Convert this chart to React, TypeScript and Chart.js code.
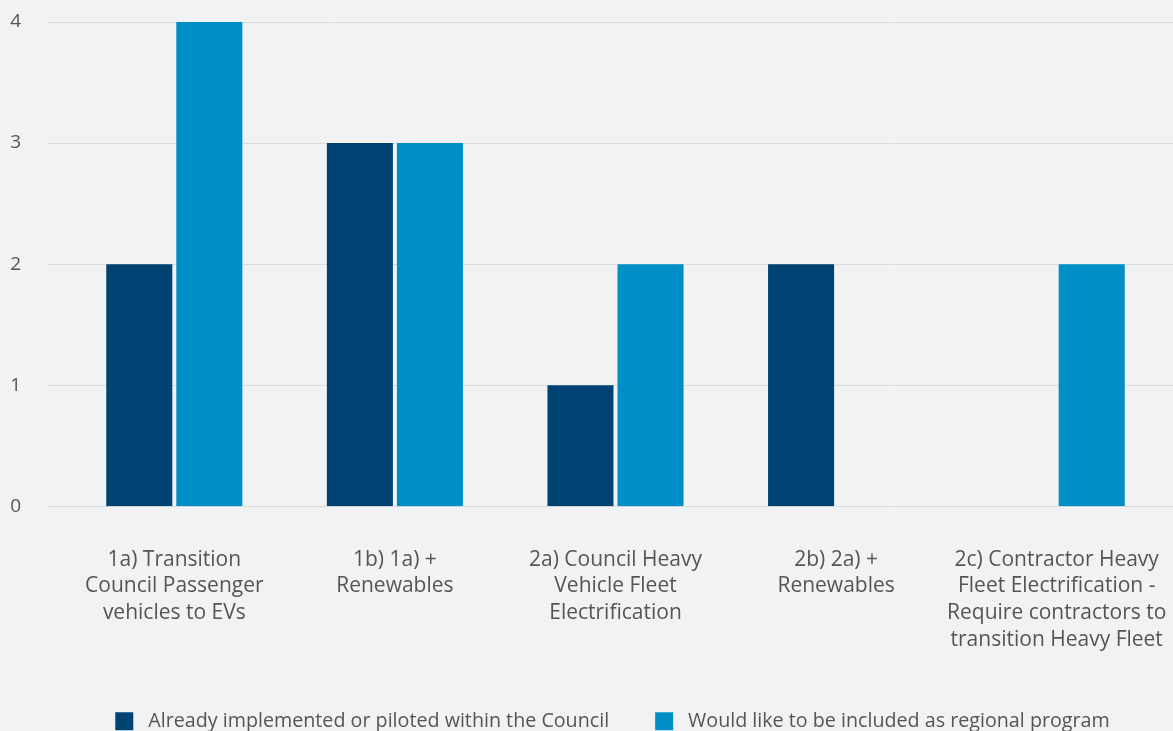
import React, { useEffect, useRef } from "react";
import { Chart, registerables } from "chart.js";

Chart.register(...registerables);

const categories: string[][] = [
  ["1a) Transition", "Council Passenger", "vehicles to EVs"],
  ["1b) 1a) +", "Renewables"],
  ["2a) Council Heavy", "Vehicle Fleet", "Electrification"],
  ["2b) 2a) +", "Renewables"],
  ["2c) Contractor Heavy", "Fleet Electrification -", "Require contractors to", "transition Heavy Fleet"],
];

const seriesNames = [
  "Already implemented or piloted within the Council",
  "Would like to be included as regional program",
];

const implementedValues = [2, 3, 1, 2, 0];
const regionalValues = [4, 3, 2, 0, 2];

const yTicks = [0, 1, 2, 3, 4];

const BG = "#f1f2f4";
const DARK = "#004373";
const LIGHT = "#008ec6";
const TEXT = "#555555";
const GRID = "#d9dbde";
const FONT = "'Open Sans', sans-serif";

const bgAndGrid = {
  id: "bgAndGrid",
  beforeDraw(chart: any) {
    const { ctx, width, height } = chart;
    ctx.save();
    ctx.fillStyle = BG;
    ctx.fillRect(0, 0, width, height);
    const y = chart.scales.y;
    ctx.strokeStyle = GRID;
    ctx.lineWidth = 1;
    yTicks.forEach((v) => {
      const py = Math.round(y.getPixelForValue(v)) + 0.5;
      ctx.beginPath();
      ctx.moveTo(47, py);
      ctx.lineTo(width, py);
      ctx.stroke();
    });
    ctx.restore();
  },
};

const legendShift = {
  id: "legendShift",
  afterLayout(chart: any) {
    const l = chart.legend;
    if (l) {
      l.left += 29;
      l.right += 29;
    }
  },
};

export default function App() {
  const ref = useRef<HTMLCanvasElement | null>(null);
  useEffect(() => {
    if (!ref.current) return;
    const chart = new Chart(ref.current, {
      type: "bar",
      data: {
        labels: categories as any,
        datasets: [
          {
            label: seriesNames[0],
            data: implementedValues,
            backgroundColor: DARK,
            barPercentage: 0.943,
            categoryPercentage: 0.635,
          },
          {
            label: seriesNames[1],
            data: regionalValues,
            backgroundColor: LIGHT,
            barPercentage: 0.943,
            categoryPercentage: 0.635,
          },
        ],
      },
      options: {
        responsive: false,
        animation: false,
        maintainAspectRatio: false,
        layout: { padding: { top: 22, right: 6, left: 0, bottom: 0 } },
        plugins: {
          tooltip: { enabled: false },
          legend: {
            position: "bottom",
            labels: {
              boxWidth: 18,
              boxHeight: 18,
              padding: 46,
              color: TEXT,
              font: { family: FONT, size: 19.7 },
              generateLabels(chart: any) {
                const items = (Chart as any).defaults.plugins.legend.labels.generateLabels(chart);
                return items.map((it: any) => ({ ...it, text: " " + it.text }));
              },
            },
          },
        },
        scales: {
          x: {
            grid: { display: false, drawTicks: false },
            border: { display: false },
            ticks: {
              color: TEXT,
              padding: 40,
              maxRotation: 0,
              autoSkip: false,
              font: { family: FONT, size: 21, lineHeight: 1.27 },
            },
            afterFit(scale: any) {
              scale.height = 159;
              scale.paddingLeft = 0;
              scale.paddingRight = 0;
            },
          },
          y: {
            min: 0,
            max: 4,
            grid: { display: false, drawTicks: false },
            border: { display: false },
            ticks: {
              stepSize: 1,
              color: TEXT,
              padding: 43,
              font: { family: FONT, size: 19 },
            },
            afterFit(scale: any) {
              scale.width = 64;
              scale.paddingTop = 0;
              scale.paddingBottom = 0;
            },
          },
        },
      },
      plugins: [bgAndGrid, legendShift],
    });
    return () => chart.destroy();
  }, []);
  return (
    <div
      style={{
        position: "fixed",
        left: 0,
        top: 0,
        width: 1173,
        height: 731,
        overflow: "hidden",
        background: BG,
      }}
    >
      <canvas ref={ref} width={1173} height={741} style={{ display: "block" }} />
    </div>
  );
}
